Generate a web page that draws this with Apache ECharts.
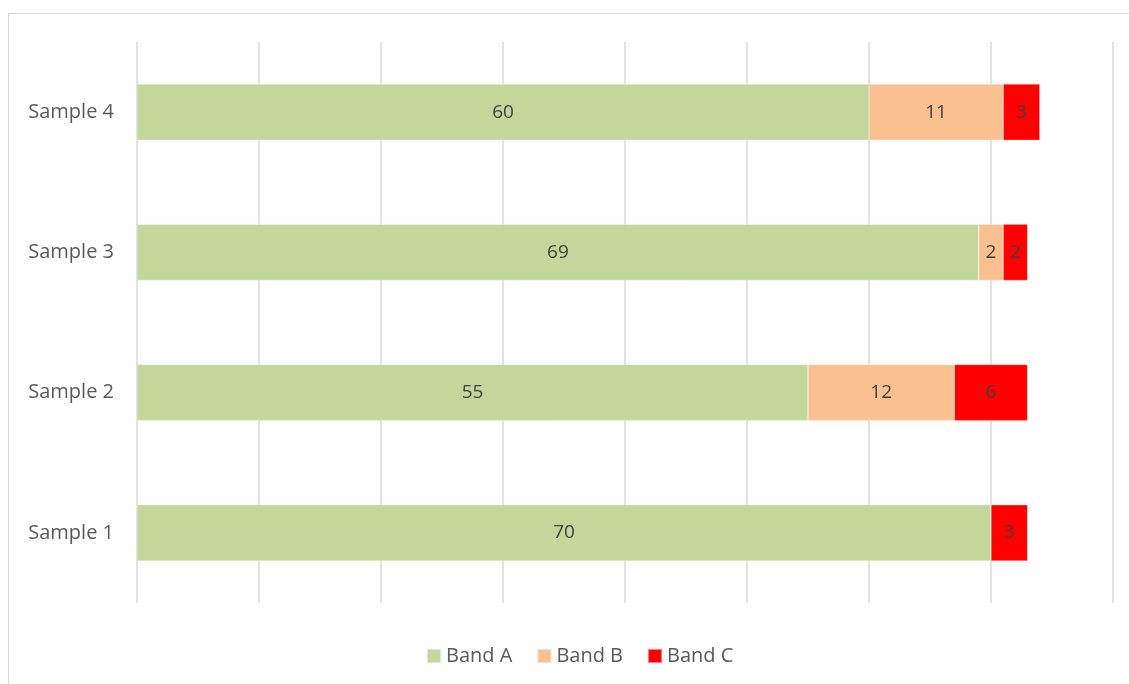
<!DOCTYPE html>
<html>
<head>
<meta charset="utf-8">
<script src="https://cdn.jsdelivr.net/npm/echarts@6/dist/echarts.min.js"></script>
<style>
  html, body { margin: 0; padding: 0; background: #fff; }
  #chart { width: 1129px; height: 684px; }
</style>
</head>
<body>
<div id="chart"></div>
<script>
// data
var categories = ['Sample 1', 'Sample 2', 'Sample 3', 'Sample 4']
var bandA = [70, 55, 69, 60]
var bandB = [0, 12, 2, 11]
var bandC = [3, 6, 2, 3]
var seriesNames = ['Band A', 'Band B', 'Band C']
var colors = ['#c4d79b', '#fac090', '#ff0000']

var chart = echarts.init(document.getElementById('chart'))

function makeSeries(name, data, color) {
  return {
    name: name,
    type: 'bar',
    stack: 'total',
    barWidth: '40%',
    data: data,
    itemStyle: { color: color, borderColor: 'rgba(255,255,255,0.5)', borderWidth: 0.5 },
    label: {
      show: true,
      position: 'inside',
      color: '#404040',
      fontSize: 19,
      fontFamily: 'Open Sans',
      formatter: function (p) { return p.value ? p.value : '' }
    }
  }
}

chart.setOption({
  animation: false,
  textStyle: { fontFamily: 'Open Sans' },
  graphic: [{
    type: 'rect',
    shape: { x: 8.5, y: 13.5, width: 1140, height: 700 },
    style: { fill: 'none', stroke: '#d9d9d9', lineWidth: 1 }
  }],
  grid: { left: 137, right: 16, top: 42, bottom: 81, containLabel: false },
  legend: {
    bottom: 13,
    left: 421,
    icon: 'rect',
    itemWidth: 14,
    itemHeight: 14,
    itemGap: 24,
    textStyle: { color: '#595959', fontSize: 20, fontFamily: 'Open Sans' },
    data: seriesNames
  },
  xAxis: {
    type: 'value',
    min: 0,
    max: 80,
    interval: 10,
    axisLabel: { show: false },
    axisLine: { show: false },
    axisTick: { show: false },
    splitLine: { show: true, lineStyle: { color: '#d9d9d9', width: 1.5 } }
  },
  yAxis: {
    type: 'category',
    data: categories,
    axisLine: { show: false },
    axisTick: { show: false },
    axisLabel: { color: '#595959', fontSize: 20, margin: 23, fontFamily: 'Open Sans' }
  },
  series: [
    makeSeries(seriesNames[0], bandA, colors[0]),
    makeSeries(seriesNames[1], bandB, colors[1]),
    makeSeries(seriesNames[2], bandC, colors[2])
  ]
})
</script>
</body>
</html>
